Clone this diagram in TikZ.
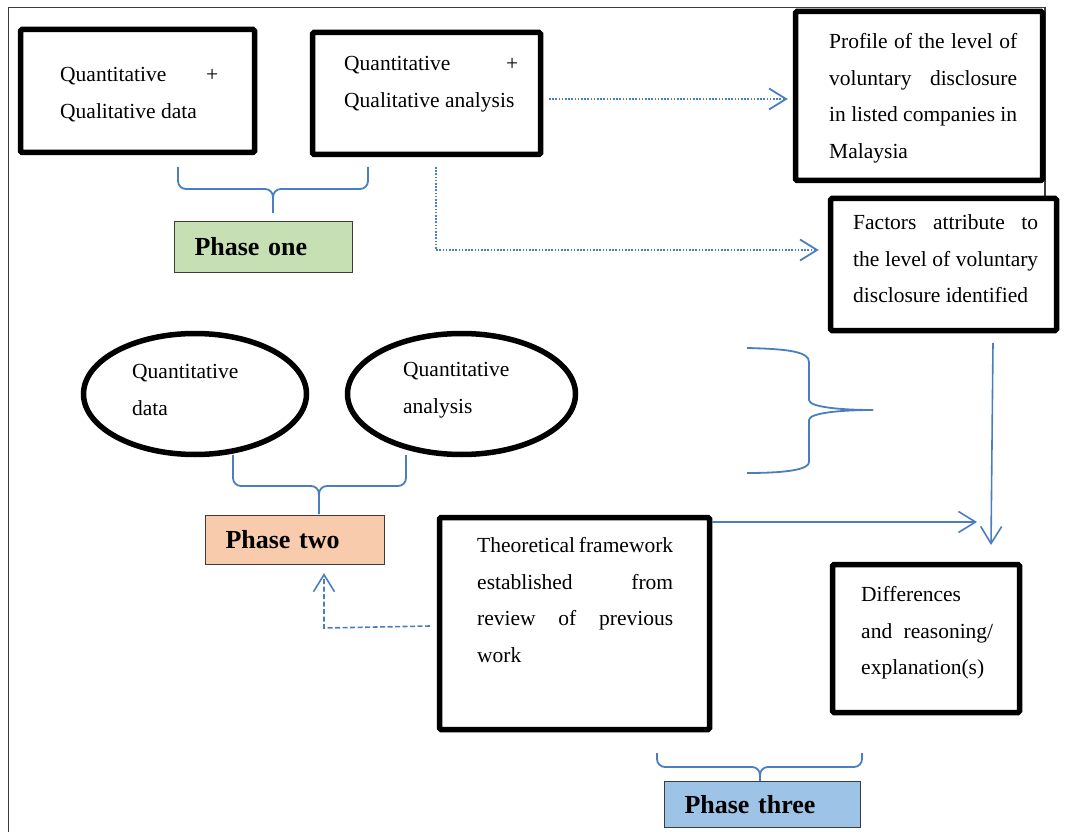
\documentclass[tikz,border=0pt]{standalone}
\usepackage{fontspec}
\setmainfont{Liberation Serif}
\usetikzlibrary{arrows.meta,shapes.geometric,calc}
\definecolor{lineblue}{RGB}{74,126,193}
\definecolor{phgreen}{RGB}{198,224,180}
\definecolor{phpeach}{RGB}{248,203,173}
\definecolor{phblue}{RGB}{157,195,230}
\definecolor{framegray}{RGB}{60,60,60}
\newcommand\TxtFont{\fontsize{21.5}{36.5}\selectfont}
\newcommand\PhFont{\fontsize{26}{30}\selectfont\bfseries}
\newcommand\JL[2]{\makebox[#1pt][s]{#2}}
\newcommand\HBrace[6]{%
  \draw[brace] (#1,#4) -- (#1,#5-8) to[out=-90,in=180] (#1+8,#5) -- (#3-8,#5) to[out=0,in=90] (#3,#5+8) -- (#3,#6);
  \draw[brace] (#2,#4) -- (#2,#5-8) to[out=-90,in=0] (#2-8,#5) -- (#3+8,#5) to[out=180,in=90] (#3,#5+8);}
\tikzset{
  thickbox/.style={draw=black, line width=5.5pt, rounded corners=1.5pt, fill=white, inner sep=0pt},
  ell/.style={ellipse, draw=black, line width=5.5pt, inner sep=0pt, fill=white},
  txt/.style={anchor=north west, inner sep=0pt, align=left, font=\TxtFont},
  phase/.style={draw=framegray, line width=1.3pt, inner xsep=20pt, inner ysep=0pt, align=left, font=\PhFont},
  brace/.style={draw=lineblue, line width=1.8pt},
  conn/.style={draw=lineblue, line width=1.6pt, -{Straight Barb[length=17pt,width=21pt]}},
  dotconn/.style={conn, line width=1.8pt, dash pattern=on 1.6pt off 1.6pt},
  dashconn/.style={conn, dash pattern=on 5pt off 2.5pt},
  frameline/.style={draw=framegray, line width=1.5pt}
}
\begin{document}
\begin{tikzpicture}[x=1pt,y=-1pt]
\useasboundingbox (0,0) rectangle (1069,832);
% outer frame
\draw[frameline] (8.5,832) -- (8.5,7.5) -- (1045,7.5) -- (1045,197);

% phase one boxes
\node[thickbox, minimum width=234pt, minimum height=123pt] (A) at (137.5,91) {};
\node[txt] (At) at (60,56.1) {\strut\JL{158}{Quantitative +}\\Qualitative data};
\node[thickbox, minimum width=228pt, minimum height=122pt] (B) at (426.5,93.5) {};
\node[txt] (Bt) at (344,45.1) {\strut\JL{174}{Quantitative +}\\Qualitative analysis};
\node[thickbox, minimum width=247pt, minimum height=169pt] (C) at (919,96) {};
\node[txt] (Ct) at (829,23.1) {\strut\JL{188}{Profile of the level of}\\\JL{188}{voluntary disclosure}\\\JL{188}{in listed companies in}\\Malaysia};
\node[thickbox, minimum width=226pt, minimum height=132pt] (D) at (943.5,264.5) {};
\node[txt] (Dt) at (853,204.1) {\strut\JL{185}{Factors attribute to}\\\JL{185}{the level of voluntary}\\disclosure identified};

\HBrace{178}{368}{273}{167}{189}{213}
\node[phase, fill=phgreen, text width=138pt, minimum height=51pt] (P1) at (263.5,247) {Phase one};

% connectors from phase one
\coordinate (a1s) at (549,99);
\draw[dotconn, shorten >=5pt] (a1s) -- (a1s -| C.west);
\coordinate (a2s) at (436,167);
\coordinate (a2c) at (436,250);
\draw[dotconn, shorten >=9pt] (a2s) -- (a2c) -- (a2c -| D.west);

% phase two
\node[ell, minimum width=223pt, minimum height=121pt] (E1) at (195,394) {};
\node[txt] (E1t) at (132,353.1) {\strut Quantitative\\data};
\node[ell, minimum width=228pt, minimum height=121pt] (E2) at (461.5,394) {};
\node[txt] (E2t) at (403,351.1) {\strut Quantitative\\analysis};
\HBrace{233}{406}{319}{455}{486}{514}
\node[phase, fill=phpeach, text width=139pt, minimum height=49pt] (P2) at (295,540) {Phase two};

% right brace
\draw[brace] (747,348) .. controls (790,349) and (809,352) .. (809,362) -- (809,400)
  .. controls (809,407) and (840,410) .. (873,410);
\draw[brace] (873,410) .. controls (840,410) and (809,413) .. (809,420) -- (809,462)
  .. controls (809,469) and (790,473) .. (747,473);

% phase three
\node[thickbox, minimum width=270pt, minimum height=212pt] (E) at (574.5,623.5) {};
\node[txt] (Et) at (477,527.1) {\strut\JL{196}{Theoretical framework}\\\JL{196}{established from}\\\JL{196}{review of previous}\\work};
\node[thickbox, minimum width=187pt, minimum height=148pt] (F) at (926,638.5) {};
\node[txt] (Ft) at (861,576.1) {\strut Differences\\\JL{132}{and reasoning/}\\explanation(s)};
\HBrace{657}{862}{760}{753}{767}{781}
\node[phase, fill=phblue, text width=156pt, minimum height=46pt] (P3) at (762.5,804.5) {Phase three};

% connectors
\coordinate (a3e) at (977,522);
\draw[conn] (E.east |- a3e) -- (a3e);
\coordinate (a4s) at (993,343);
\coordinate (a4e) at (991,545);
\draw[conn] (a4s) -- (a4e);
\coordinate (a5s) at (430,626);
\coordinate (a5c) at (324,628);
\draw[dashconn, shorten >=8pt] (a5s) -- (a5c) -- (a5c |- P2.south);
\end{tikzpicture}
\end{document}
